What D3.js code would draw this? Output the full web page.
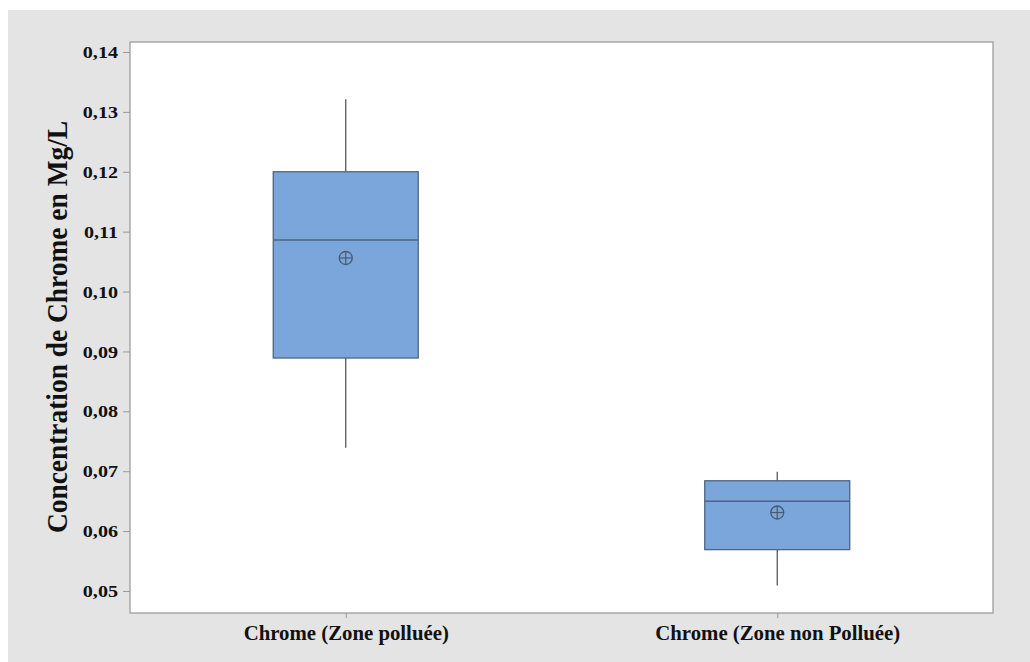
<!DOCTYPE html>
<html>
<head>
<meta charset="utf-8">
<script src="https://cdn.jsdelivr.net/npm/d3@7"></script>
<style>
  html, body { margin: 0; padding: 0; background: #fff; }
  svg { display: block; }
  text { font-family: "Liberation Serif", "DejaVu Serif", serif; font-weight: bold; fill: #111; }
</style>
</head>
<body>
<svg id="chart"></svg>
<script>
const groups = ['Chrome (Zone polluée)', 'Chrome (Zone non Polluée)'];
const whiskerLow = [0.0739, 0.0509];
const q1 = [0.0889, 0.0569];
const median = [0.1086, 0.0650];
const q3 = [0.1200, 0.0684];
const whiskerHigh = [0.1321, 0.0699];
const means = [0.1056, 0.0631];
const yTicks = [0.05, 0.06, 0.07, 0.08, 0.09, 0.10, 0.11, 0.12, 0.13, 0.14];

const W = 1030, H = 662;
const margin = { top: 42, right: 37, bottom: 49, left: 130 };
const width = W - margin.left - margin.right;
const height = H - margin.top - margin.bottom;

const svg = d3.select('#chart').attr('width', W).attr('height', H);

// grey panel behind the plot
svg.append('rect')
    .attr('x', 8).attr('y', 10)
    .attr('width', W - 8).attr('height', H - 10)
    .attr('fill', '#e4e4e4');

const g = svg.append('g')
    .attr('transform', `translate(${margin.left},${margin.top})`);

g.append('rect')
    .attr('width', width).attr('height', height)
    .attr('fill', '#fff')
    .attr('stroke', '#a8a8a8')
    .attr('stroke-width', 1.5);

const y = d3.scaleLinear()
    .domain([0.04632, 0.14167])
    .range([height, 0]);

const x = d3.scalePoint()
    .domain(groups)
    .range([0, width])
    .padding(0.5);

const fmt = (d) => d3.format('.2f')(d).replace('.', ',');

const yAxis = g.append('g')
    .call(d3.axisLeft(y).tickValues(yTicks).tickFormat(fmt).tickSize(7));
yAxis.select('.domain').remove();
yAxis.selectAll('line').attr('stroke', '#999');
yAxis.selectAll('text')
    .attr('font-family', '"Liberation Serif", serif')
    .attr('font-size', 17.5)
    .attr('fill', '#111')
    .attr('x', 0)
    .attr('transform', 'translate(-12,0) scale(1.15,1)');

const xAxis = g.append('g')
    .attr('transform', `translate(0,${height})`)
    .call(d3.axisBottom(x).tickSize(5));
xAxis.select('.domain').remove();
xAxis.selectAll('line').attr('stroke', '#999');
xAxis.selectAll('text')
    .attr('font-family', '"Liberation Serif", serif')
    .attr('font-size', 20)
    .attr('fill', '#111')
    .attr('y', 0)
    .attr('dy', 0)
    .attr('transform', 'translate(0,27) scale(1.04,1)');

svg.append('text')
    .attr('transform', 'translate(67,327) rotate(-90) scale(0.93,1)')
    .attr('text-anchor', 'middle')
    .attr('font-size', 29.5)
    .text('Concentration de Chrome en Mg/L');

const boxW = x.step() * 0.336;
const data = groups.map((name, i) => ({
    name, lo: whiskerLow[i], q1: q1[i], med: median[i], q3: q3[i], hi: whiskerHigh[i], mean: means[i]
}));

const boxes = g.selectAll('.box')
    .data(data)
    .join('g')
    .attr('class', 'box')
    .attr('transform', (d) => `translate(${x(d.name)},0)`);

boxes.append('line')
    .attr('y1', (d) => y(d.hi)).attr('y2', (d) => y(d.q3))
    .attr('stroke', '#5a5a5a').attr('stroke-width', 1.3);
boxes.append('line')
    .attr('y1', (d) => y(d.q1)).attr('y2', (d) => y(d.lo))
    .attr('stroke', '#5a5a5a').attr('stroke-width', 1.3);

boxes.append('rect')
    .attr('x', -boxW / 2)
    .attr('width', boxW)
    .attr('y', (d) => y(d.q3))
    .attr('height', (d) => y(d.q1) - y(d.q3))
    .attr('fill', '#7ba6db')
    .attr('stroke', '#4f6480')
    .attr('stroke-width', 1.3);

boxes.append('line')
    .attr('x1', -boxW / 2).attr('x2', boxW / 2)
    .attr('y1', (d) => y(d.med)).attr('y2', (d) => y(d.med))
    .attr('stroke', '#4f6480').attr('stroke-width', 1.5);

// mean symbol: circle with cross
const mean = boxes.append('g')
    .attr('transform', (d) => `translate(0,${y(d.mean)})`);
mean.append('circle')
    .attr('r', 6.5)
    .attr('fill', 'none')
    .attr('stroke', '#4a5a70')
    .attr('stroke-width', 1.3);
mean.append('line')
    .attr('x1', -6.5).attr('x2', 6.5)
    .attr('stroke', '#4a5a70').attr('stroke-width', 1.2);
mean.append('line')
    .attr('y1', -6.5).attr('y2', 6.5)
    .attr('stroke', '#4a5a70').attr('stroke-width', 1.2);
</script>
</body>
</html>
